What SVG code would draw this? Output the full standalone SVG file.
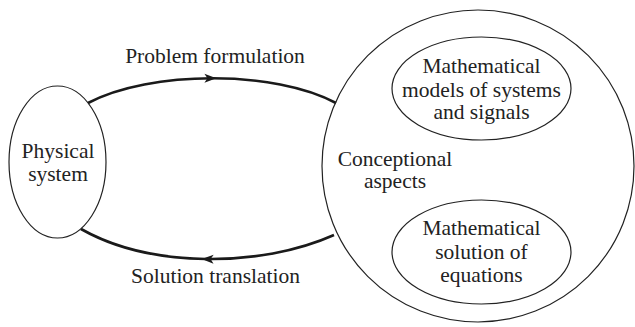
<svg xmlns="http://www.w3.org/2000/svg" width="635" height="327" viewBox="0 0 635 327">
<style>
text{font-family:'Liberation Serif','DejaVu Serif',serif;font-size:21.5px;fill:#222;text-anchor:middle}
.node{fill:none;stroke:#222;stroke-width:1.2}
.conn{fill:none;stroke:#1a1a1a;stroke-width:2.6;marker-mid:url(#arr)}
</style>
<defs>
<marker id="arr" markerUnits="userSpaceOnUse" orient="auto" markerWidth="20" markerHeight="20" refX="0" refY="0" viewBox="-10 -10 20 20" overflow="visible">
<path d="M-8,-4.5 L4,0 L-8,4.5 L-5,0 Z" fill="#1a1a1a"/>
</marker>
</defs>
<g id="connectors">
<path class="conn" d="M88,103 C119,86.5 165.75,78.25 212.4,78.25 C259,78.25 305.5,86.5 336,103"/>
<path class="conn" d="M334,235 C297,251.5 251,259.75 205.6,259 C160.25,258.25 115.5,248.5 81,229"/>
<text x="215" y="63">Problem formulation</text>
<text x="215.5" y="283">Solution translation</text>
</g>
<g id="physical">
<ellipse class="node" cx="57.5" cy="162" rx="48.5" ry="76"/>
<text x="58" y="158">Physical</text>
<text x="58" y="181">system</text>
</g>
<g id="conceptional">
<circle class="node" cx="478" cy="166" r="156"/>
<text x="395" y="166">Conceptional</text>
<text x="395" y="188">aspects</text>
</g>
<g id="models">
<ellipse class="node" cx="481.5" cy="88.5" rx="89.5" ry="51.5"/>
<text x="481.5" y="73">Mathematical</text>
<text x="481.5" y="96.5">models of systems</text>
<text x="481.5" y="119">and signals</text>
</g>
<g id="solution">
<ellipse class="node" cx="481.5" cy="252" rx="89.5" ry="52"/>
<text x="481.5" y="235">Mathematical</text>
<text x="481.5" y="259">solution of</text>
<text x="481.5" y="282">equations</text>
</g>
</svg>
